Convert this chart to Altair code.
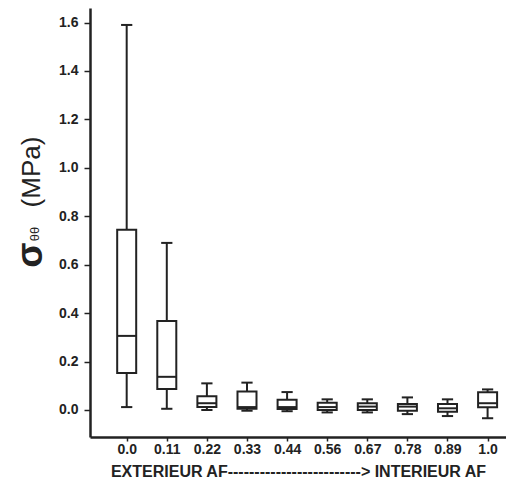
import altair as alt
import pandas as pd

labels = ["0.0", "0.11", "0.22", "0.33", "0.44", "0.56", "0.67", "0.78", "0.89", "1.0"]
w_min = [0.012, 0.005, 0.000, -0.003, -0.005, -0.010, -0.010, -0.017, -0.025, -0.034]
q1 = [0.153, 0.087, 0.012, 0.005, 0.004, 0.000, 0.000, -0.003, -0.007, 0.011]
median = [0.306, 0.137, 0.028, 0.012, 0.012, 0.012, 0.014, 0.014, 0.007, 0.028]
q3 = [0.744, 0.368, 0.057, 0.076, 0.042, 0.030, 0.028, 0.025, 0.025, 0.073]
w_max = [1.59, 0.69, 0.110, 0.113, 0.074, 0.044, 0.044, 0.052, 0.044, 0.085]

df = pd.DataFrame({
    "pos": list(range(len(labels))),
    "label": labels,
    "wmin": w_min, "q1": q1, "med": median, "q3": q3, "wmax": w_max,
})
one = pd.DataFrame({"k": [0]})

label_expr = "[" + ",".join("'" + l + "'" for l in labels) + "][datum.value]"

xscale = alt.Scale(domain=[-0.915, 9.459], nice=False, zero=False)
yscale = alt.Scale(domain=[-0.1115, 1.66], nice=False, zero=False)

xaxis = alt.Axis(values=list(range(10)), labelExpr=label_expr, grid=False,
                 title="EXTERIEUR AF-------------------------> INTERIEUR AF",
                 titleFont="Liberation Sans", titleFontSize=16, titleFontWeight="bold",
                 titleColor="#222", titleY=39, titleBaseline="alphabetic",
                 labelFont="Liberation Sans", labelFontSize=14, labelFontWeight="bold",
                 labelColor="#222", tickSize=4, tickColor="#222", tickWidth=1.5,
                 labelPadding=1, domainColor="#222", domainWidth=2.5)
yaxis = alt.Axis(values=[0, 0.2, 0.4, 0.6, 0.8, 1.0, 1.2, 1.4, 1.6], format=".1f",
                 grid=False, title="",
                 labelFont="Liberation Sans", labelFontSize=14, labelFontWeight="bold",
                 labelColor="#222", tickSize=6, tickColor="#222", tickWidth=1.5,
                 labelPadding=6, domainColor="#222", domainWidth=2.5)

base = alt.Chart(df).transform_calculate(
    bl="datum.pos - 0.237", br="datum.pos + 0.237",
    cl="datum.pos - 0.14", cr="datum.pos + 0.14",
)

whisker = base.mark_rule(color="#222", strokeWidth=2).encode(
    x=alt.X("pos:Q", scale=xscale, axis=xaxis),
    y=alt.Y("wmin:Q", scale=yscale, axis=yaxis),
    y2="wmax:Q",
)
box = base.mark_rect(fill="white", stroke="#222", strokeWidth=2).encode(
    x=alt.X("bl:Q", scale=xscale), x2="br:Q",
    y=alt.Y("q1:Q", scale=yscale), y2="q3:Q",
)
med = base.mark_rule(color="#222", strokeWidth=2).encode(
    x=alt.X("bl:Q", scale=xscale), x2="br:Q",
    y=alt.Y("med:Q", scale=yscale),
)
cap_top = base.mark_rule(color="#222", strokeWidth=2).encode(
    x=alt.X("cl:Q", scale=xscale), x2="cr:Q",
    y=alt.Y("wmax:Q", scale=yscale),
)
cap_bot = base.mark_rule(color="#222", strokeWidth=2).encode(
    x=alt.X("cl:Q", scale=xscale), x2="cr:Q",
    y=alt.Y("wmin:Q", scale=yscale),
)

title_sigma = alt.Chart(one).mark_text(
    text="σ", angle=270, font="Liberation Sans", fontSize=37, fontWeight="bold",
    color="#222", align="center", baseline="alphabetic",
).encode(x=alt.value(-48), y=alt.value(247))
title_sub = alt.Chart(one).mark_text(
    text="θθ", angle=270, font="Liberation Sans", fontSize=13, color="#222",
    align="center", baseline="alphabetic",
).encode(x=alt.value(-51), y=alt.value(226))
title_unit = alt.Chart(one).mark_text(
    text="(MPa)", angle=270, font="Liberation Sans", fontSize=26, color="#222",
    align="center", baseline="alphabetic",
).encode(x=alt.value(-50), y=alt.value(164))

chart = alt.layer(whisker, box, med, cap_top, cap_bot, title_sigma, title_sub, title_unit).properties(
    width=416, height=429,
    autosize=alt.AutoSizeParams(type="none"),
    padding={"left": 82, "top": 0, "right": 0, "bottom": 43},
).configure_view(stroke=None)

chart.save("out.html", embed_options={"renderer": "svg", "actions": False})
